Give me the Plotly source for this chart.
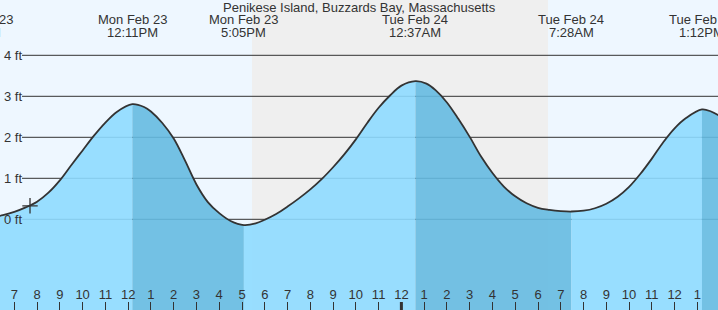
import plotly.graph_objects as go

# ---- data (hours since Mon Feb 23 00:00) ----
times = [5.43, 6.0, 6.5, 7.0, 7.5, 8.0, 8.5, 9.0, 9.5, 10.0, 10.5, 11.0, 11.5, 12.183,
         12.7, 13.0, 13.5, 14.0, 14.5, 15.0, 15.5, 16.0, 16.5, 17.083,
         17.6, 18.0, 18.5, 19.0, 19.5, 20.0, 20.5, 21.0, 21.5, 22.0, 22.5, 23.0, 23.5, 24.0, 24.617,
         25.1, 25.5, 26.0, 26.5, 27.0, 27.5, 28.0, 28.5, 29.0, 29.5, 30.0, 30.5, 31.0, 31.467,
         32.0, 32.5, 33.0, 33.5, 34.0, 34.5, 35.0, 35.5, 36.0, 36.5, 37.2, 37.6, 38.0]
levels = [0.02, 0.05, 0.10, 0.18, 0.29, 0.43, 0.65, 0.95, 1.32, 1.68, 2.04, 2.36, 2.62, 2.81,
          2.74, 2.63, 2.35, 1.97, 1.43, 0.85, 0.42, 0.15, -0.04, -0.14,
          -0.10, -0.01, 0.13, 0.31, 0.51, 0.73, 0.98, 1.27, 1.59, 1.95, 2.35, 2.72, 3.02, 3.26, 3.37,
          3.31, 3.15, 2.85, 2.45, 2.01, 1.53, 1.13, 0.80, 0.56, 0.39, 0.28, 0.23, 0.20, 0.19,
          0.21, 0.27, 0.38, 0.55, 0.79, 1.11, 1.48, 1.88, 2.22, 2.47, 2.68, 2.63, 2.51]

extreme_times = [5.43, 12.183, 17.083, 24.617, 31.467, 37.2]
extreme_kind = ["low", "high", "low", "high", "low", "high"]
extreme_dates = ["Mon Feb 23", "Mon Feb 23", "Mon Feb 23", "Tue Feb 24", "Tue Feb 24", "Tue Feb 24"]
extreme_labels = ["5:26AM", "12:11PM", "5:05PM", "12:37AM", "7:28AM", "1:12PM"]

sunset_time = 17.44
sunrise_time = 30.44

now_time = 7.69
now_level = 0.33

hour_ticks = list(range(7, 38))
hour_labels = ["7", "8", "9", "10", "11", "12", "1", "2", "3", "4", "5", "6", "7", "8", "9", "10", "11",
               "12", "1", "2", "3", "4", "5", "6", "7", "8", "9", "10", "11", "12", "1"]
midnight_tick = 24

grid_levels = [0, 1, 2, 3, 4]
grid_labels = ["0 ft", "1 ft", "2 ft", "3 ft", "4 ft"]

title = "Penikese Island, Buzzards Bay, Massachusetts"

# ---- layout constants ----
W, H = 718, 310
x_range = [6.372, 37.905]
y_range = [-2.212, 5.349]

DAY = "#EEF7FF"
NIGHT = "#EFEFEF"
LIGHT_FILL = "rgba(142,218,255,0.9)"
DARK_FILL = "rgba(101,186,225,0.9)"
INK = "#333333"
FONT = "Liberation Sans, Arial, sans-serif"
SMOOTH = 1.0

fig = go.Figure()

# fills, split at high/low tides (dark from high to next low)
bounds = [times[0]] + extreme_times[1:] + [times[-1]]
for i in range(len(bounds) - 1):
    a, b = bounds[i], bounds[i + 1]
    seg = [(t, v) for t, v in zip(times, levels) if a - 1e-9 <= t <= b + 1e-9]
    xs = [p[0] for p in seg]
    ys = [p[1] for p in seg]
    falling = False
    if a in extreme_times:
        falling = extreme_kind[extreme_times.index(a)] == "high"
    color = DARK_FILL if falling else LIGHT_FILL
    fig.add_trace(go.Scatter(x=[xs[0], xs[-1]], y=[y_range[0], y_range[0]], mode="lines",
                             line=dict(width=0), hoverinfo="skip", showlegend=False))
    fig.add_trace(go.Scatter(x=xs, y=ys, mode="lines",
                             line=dict(width=0, shape="spline", smoothing=SMOOTH),
                             fill="tonexty", fillcolor=color, hoverinfo="skip", showlegend=False))

# outline
fig.add_trace(go.Scatter(x=times, y=levels, mode="lines",
                         line=dict(color=INK, width=1.8, shape="spline", smoothing=SMOOTH),
                         hoverinfo="skip", showlegend=False))

# current time marker
fig.add_trace(go.Scatter(x=[now_time], y=[now_level], mode="markers",
                         marker=dict(symbol="cross-thin", size=11, line=dict(color=INK, width=1.3)),
                         hoverinfo="skip", showlegend=False))

shapes = []
shapes.append(dict(type="rect", xref="x", yref="paper", x0=sunset_time, x1=sunrise_time, y0=0, y1=1,
                   fillcolor=NIGHT, line=dict(width=0), layer="below"))
for g in grid_levels:
    shapes.append(dict(type="line", xref="paper", yref="y", x0=22 / W, x1=1, y0=g, y1=g,
                       line=dict(color=INK, width=1), layer="below"))
shapes.append(dict(type="line", xref="x", yref="paper", x0=midnight_tick, x1=midnight_tick,
                   y0=0, y1=8 / H, line=dict(color=INK, width=3)))

annotations = []
for g, lab in zip(grid_levels, grid_labels):
    annotations.append(dict(xref="paper", yref="y", x=2 / W, y=g, text=lab, showarrow=False,
                            xanchor="left", yanchor="middle",
                            font=dict(family=FONT, size=13, color=INK)))

def to_paper(t):
    return (t - x_range[0]) / (x_range[1] - x_range[0])

for t, d, lab in zip(extreme_times, extreme_dates, extreme_labels):
    annotations.append(dict(xref="paper", yref="paper", x=to_paper(t), y=1 - 20 / H, text=d,
                            showarrow=False, xanchor="center", yanchor="middle",
                            font=dict(family=FONT, size=13, color=INK)))
    annotations.append(dict(xref="paper", yref="paper", x=to_paper(t), y=1 - 32.5 / H, text=lab,
                            showarrow=False, xanchor="center", yanchor="middle",
                            font=dict(family=FONT, size=13, color=INK)))

annotations.append(dict(xref="paper", yref="paper", x=0.5, y=1 - 7 / H, text=title,
                        showarrow=False, xanchor="center", yanchor="middle",
                        font=dict(family=FONT, size=13, color=INK)))

fig.update_layout(
    width=W, height=H,
    margin=dict(l=0, r=0, t=0, b=0),
    paper_bgcolor=DAY, plot_bgcolor=DAY,
    shapes=shapes, annotations=annotations,
    showlegend=False,
    xaxis=dict(range=x_range, showgrid=False, zeroline=False, showline=False,
               tickmode="array", tickvals=hour_ticks, ticktext=hour_labels,
               ticks="inside", ticklen=8, tickwidth=1, tickcolor=INK,
               ticklabelposition="inside", tickfont=dict(family=FONT, size=13, color=INK),
               fixedrange=True),
    yaxis=dict(range=y_range, showgrid=False, zeroline=False, showline=False,
               showticklabels=False, ticks="", fixedrange=True),
)

fig.write_html("out.html", config={"displayModeBar": False})
